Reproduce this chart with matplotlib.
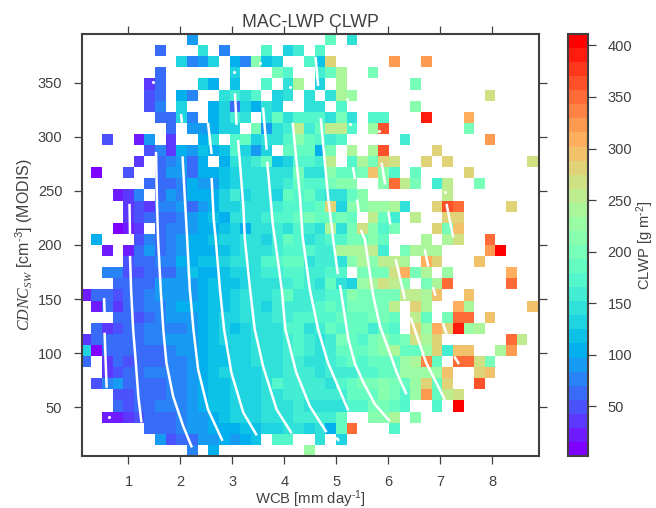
import numpy as np
import matplotlib
matplotlib.use("Agg")
import matplotlib.pyplot as plt

plt.rcParams['font.family'] = ['Liberation Sans', 'DejaVu Sans']
plt.rcParams['mathtext.fontset'] = 'custom'
plt.rcParams['mathtext.rm'] = 'Liberation Sans'
plt.rcParams['mathtext.it'] = 'Liberation Serif:italic'
plt.rcParams['mathtext.default'] = 'regular'

_ = np.nan

# CLWP [g m-2] per bin, top row (CDNC ~ 390) first
clwp_rows = [
    [_]*10+[90]+[_]*12+[180,_,145],
    [_]*7+[70,_,_,_,150,_,72,_,_,_,170,_,135,165,_,175],
    [_]*9+[125,78,90,130,_,105,78,220,115,130,_,_,170,115,280]+[_]*5+[325,_,_,325],
    [_]*7+[70]+[_]*6+[125,_,_,_,205,170,_,_,160,185,240,_,_,205],
    [_]*6+[38,70,_,_,_,130,110,_,115,_,_,170,_,145,245,_,125,_,240]+[_]*6+[205],
    [_]*6+[48,65,_,100,75,_,_,140,165,150,170,_,130,145,_,145,_,140,245,225]+[_]*12+[265],
    [_]*6+[45,78,_,125,_,_,105,135,70,130,105,150,130,_,_,140,145,_,175]+[_]*6+[210],
    [_]*7+[65,65,130,72,_,100,135,165,145,_,150,190,150,170,175,170,145,205,140,_,175,175,_,_,_,390,_,_,_,310],
    [_]*8+[65,_,85,85,100,125,125,_,200,95,140,160,250,155,180,250,255,175,_,230,365]+[_]*7+[205],
    [_,_,55,_,_,22,90,_,40,_,_,100,145,_,175,185,135,145,140,170,210,185,170,160,170]+[_]*5+[165]+[_]*7+[325],
    [_]*6+[45,80,38,100,90,120,110,120,175,125,90,130,_,185,190,190,100,205,_,240,_,240,365]+[_]*4+[285],
    [_]*5+[38,_,60,80,90,60,105,_,105,150,150,155,190,120,135,170,175,165,250,_,175,235,195,275,265,_,_,280,_,280]+[_]*7+[265],
    [_,12,_,_,55,_,_,65,85,85,70,100,105,115,135,150,150,150,145,150,195,140,140,220,180,180,200,295,220,170,_,190]+[_]*4+[280],
    [_]*6+[65,70,70,80,100,85,95,115,125,140,150,140,145,160,185,175,175,195,220,215,_,_,215,355,260,195,_,155,255,_,_,195],
    [_]*3+[25,35,75,_,65,85,75,105,105,105,130,165,130,150,150,125,185,170,185,165,150,150,190,220]+[_]*7+[255],
    [_]*4+[30,50,38,75,80,85,70,85,105,125,135,150,150,140,160,175,175,170,180,280,135,210,215,225,225,245,150,_,_,280,365,345]+[_]*4+[275],
    [_]*4+[30,48,70,70,65,78,90,105,120,100,140,150,150,160,175,170,185,195,185,190,205,190,_,250,180,155,_,255,_,_,280,280],
    [_]*3+[8,22,38,_,60,72,78,88,100,110,120,125,110,150,150,160,145,175,155,150,240,150,205,265,215,170,205,_,_,_,280,200,300],
    [_,105,_,_,_,55,80,65,72,85,105,105,115,125,135,145,150,130,165,185,175,150,165,170,170,195,200,215,190,_,_,_,245,_,245,265,_,_,350],
    [_,_,25,_,22,62,85,65,75,85,100,105,105,115,130,145,150,150,165,175,175,170,160,165,240,240,235,255,165,_,195,240,245,245]+[_]*4+[320,410],
    [_]*4+[50,62,70,72,78,105,100,120,115,125,140,145,150,170,175,180,180,150,160,165,150,220,235,215,250,250,240,_,305,285,_,_,_,300],
    [_,_,80,78,45,52,65,70,60,85,115,105,105,120,130,135,140,160,165,170,175,165,165,175,175,_,200,205,205,265,305,195,235,_,225]+[_]*5+[315],
    [_]*3+[65,60,62,68,85,85,85,90,100,120,115,115,130,145,150,140,165,170,155,145,180,150,135,230,245,265,250,210,_,205,240,345]+[_]*5+[355],
    [22,68,70,45,60,62,75,85,85,90,95,105,115,120,135,145,145,150,160,180,165,155,165,175,175,210,205,205,205,205,250,255,235,295,_,_,300],
    [_,28,70,30,60,62,72,80,85,100,100,105,115,120,130,140,145,135,165,165,165,160,170,180,170,195,195,195,195,260,_,275,235,_,_,305,245]+[_]*5+[300],
    [_]*3+[65,62,50,62,75,85,85,95,105,115,125,135,140,145,150,160,165,170,170,175,175,180,190,190,195,195,190,_,250,190,_,195,355,350,_,300],
    [_,70,30,50,62,65,72,75,72,80,95,105,115,125,115,130,145,150,145,170,170,145,160,180,170,185,185,160,190,170,_,280,225,305,280,390,230,235],
    [35,68,60,65,65,68,72,75,85,85,90,105,120,125,130,135,140,150,150,165,170,165,150,155,195,180,170,205,210,180,200,265,240,280]+[_]*6+[350,260],
    [130,12,62,65,68,70,62,65,75,85,85,105,115,120,130,135,140,145,150,165,170,160,150,165,180,180,185,195,210,245,180,190,230,280,165,300,300,_,_,245,320],
    [65,_,40,62,48,62,70,70,75,80,85,105,115,120,135,135,140,145,150,155,165,150,150,160,170,180,175,180,190,190,225,240,330,190,_,345,345,265,200],
    [_,_,35,45,60,70,80,80,72,75,90,100,115,125,135,135,135,145,150,155,160,155,150,155,165,155,170,170,185,190,225,225,225,225,300,_,_,280,300],
    [_,55,80,85,62,62,65,70,72,75,85,100,115,118,135,135,135,150,170,155,160,155,160,150,170,180,200,195,215,205,190,225,280,190,280,_,_,365],
    [_]*3+[50,48,65,68,70,72,75,85,100,115,118,130,135,135,140,150,155,160,155,155,165,165,180,185,190,210,205,170,230,320,190,260,265],
    [_]*3+[70,45,65,68,72,75,80,85,100,115,118,125,135,135,145,150,150,155,150,150,150,150,170,175,195,205,180,170,_,_,170,_,405],
    [_,_,28,22,35,50,65,68,70,78,85,95,105,115,125,130,135,140,150,150,155,165,155,155,190,_,_,210,210,240,_,215],
    [_]*6+[65,68,68,72,85,88,100,105,110,115,120,130,130,140,150,125,145,110,180,345,_,_,_,170],
    [_]*7+[85,48,60,65,85,90,105,88,105,118,_,168,178,_,_,148,_,125],
    [_]*10+[80,_,105]+[_]*8+[225],
]

# white contour pieces, (x, y) in WCB / CDNC units
contour_x = [
    [1.03,1.05,1.09,1.14,1.19,1.25], [1.02,1.03],
    [1.53,1.55,1.57,1.62,1.67,1.73,1.86,2.05,2.22],
    [2.04,2.09,2.13,2.18,2.25,2.34,2.53,2.81], [2.01,2.03],
    [2.60,2.64,2.68,2.76,2.84,2.98,3.21,3.47], [2.53,2.60],
    [3.11,3.21,3.24,3.34,3.43,3.59,3.85,4.14], [3.05,3.08],
    [3.67,3.78,3.82,3.95,4.02,4.23,4.49,4.81], [5.00,5.05], [3.59,3.66],
    [4.16,4.24,4.30,4.35,4.49,4.65,4.84,5.23],
    [4.70,4.84,4.94,5.03], [5.07,5.23,5.36,5.52,5.74,6.03], [4.60,4.65],
    [5.32,5.36], [5.40,5.45], [5.47,5.55,5.71,5.84,6.03,6.18,6.35],
    [5.87,5.94], [6.00,6.04], [6.14,6.32], [6.43,6.73,7.09],
    [7.12,7.25], [6.70,6.77], [6.86,6.91], [7.05,7.12], [7.27,7.36],
    [0.53,0.54], [0.54,0.58],
]
contour_y = [
    [190,159,122,92,60,36], [238,208],
    [286,236,205,159,122,91,60,33,13],
    [282,239,205,159,122,85,48,19], [321,313],
    [262,224,205,159,122,82,45,24], [313,284],
    [297,236,205,159,122,88,48,26], [340,311],
    [277,218,205,159,122,82,51,27], [22,19], [327,288],
    [313,274,245,208,159,122,91,47],
    [317,245,205,173], [163,113,90,73,53,37], [374,347],
    [272,261], [242,224], [214,205,153,125,100,80,62],
    [276,256], [231,219], [187,150], [133,91,57],
    [238,207], [196,180], [161,153], [128,118], [97,90],
    [151,138], [119,68],
]
dots_x = [3.03,3.54,5.20,5.26,1.48,4.11,0.63,5.82,7.09]
dots_y = [360,368,335,312,351,346,41,305,249]

cbar_ticks = [50,100,150,200,250,300,350,400]
x_ticks = [1,2,3,4,5,6,7,8]
y_ticks = [50,100,150,200,250,300,350]

grid = np.array([r + [_]*(43-len(r)) for r in clwp_rows])[::-1]
x_edges = np.linspace(0.08, 8.88, 44)
y_edges = np.linspace(5, 395, 39)

grey = '#404040'
fig = plt.figure(figsize=(6.56, 5.08), dpi=100)
ax = fig.add_axes([81.7/656, 52/508, 457.3/656, 422/508])
cmap = plt.get_cmap('rainbow', 30)
mesh = ax.pcolormesh(x_edges, y_edges, np.ma.masked_invalid(grid), cmap=cmap, vmin=2, vmax=411, linewidth=0)

for xs, ys in zip(contour_x, contour_y):
    ax.plot(xs, ys, color='white', lw=1.8, solid_capstyle='butt', solid_joinstyle='round')
ax.plot(dots_x, dots_y, 'o', color='white', ms=2.2, mew=0)

ax.set_xlim(0.1, 8.9)
ax.set_ylim(5, 395)
ax.set_xticks(x_ticks)
ax.set_yticks(y_ticks)
ax.tick_params(direction='out', length=6, width=0.9, color=grey, labelcolor=grey, labelsize=10.5,
               top=True, right=True, pad=8)
for s in ax.spines.values():
    s.set_linewidth(1.5)
    s.set_color(grey)
ax.set_title('MAC-LWP CLWP', fontsize=12.8, color=grey, pad=5)
ax.set_xlabel('WCB [mm day$^{\\text{-1}}$]', fontsize=10.7, color=grey, labelpad=-1)
ax.set_ylabel('$\\mathit{CDNC}_{\\mathit{SW}}$ [cm$^{\\text{-3}}$] (MODIS)', fontsize=11.5, color=grey, labelpad=2)

cax = fig.add_axes([567.5/656, 52/508, 20.5/656, 422/508])
cb = fig.colorbar(mesh, cax=cax)
cb.set_ticks(cbar_ticks)
cax.tick_params(direction='out', length=6, width=0.9, color=grey, labelcolor=grey, labelsize=10.5, pad=8)
cb.outline.set_linewidth(1.5)
cb.outline.set_edgecolor(grey)
cb.set_label('CLWP [g m$^{\\text{-2}}$]', fontsize=10.5, color=grey, labelpad=2)

fig.savefig('out.png', dpi=100)
